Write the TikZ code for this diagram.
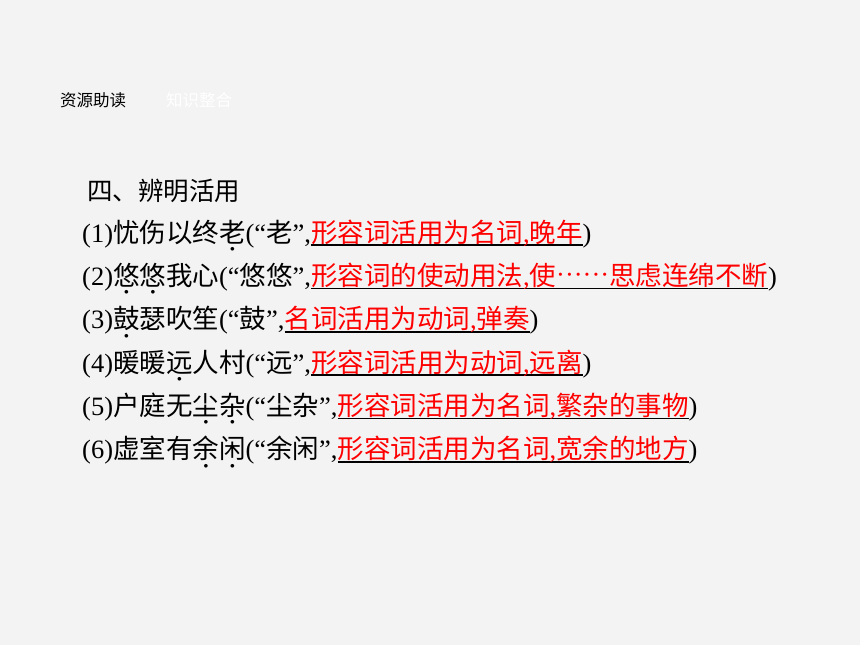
\documentclass[tikz,border=0pt]{standalone}
\usepackage{fontspec}
\setmainfont{Liberation Serif}
\newfontfamily\cjk{Noto Sans CJK SC}
\newfontfamily\dv{DejaVu Sans}
\definecolor{bg}{RGB}{243,243,243}
\definecolor{hl}{RGB}{255,0,0}
\newsavebox\ulbox
\newsavebox\dotbox
\newcommand\zh[1]{{\cjk #1}}
\newcommand\ul[1]{\sbox\ulbox{\color{hl}#1}\rlap{\vrule width\wd\ulbox height -2.3pt depth 4.1pt}\usebox\ulbox}
\newcommand\edot[1]{\sbox\dotbox{#1}\rlap{\hbox to \wd\dotbox{\hss\raisebox{-8.6pt}{\dv\fontsize{4.8}{5}\selectfont ●}\hss}}\usebox\dotbox}
\newcommand\myell{\hbox to 53pt{\hss\raisebox{1.5pt}{·}\hss\raisebox{1.5pt}{·}\hss\raisebox{1.5pt}{·}\hss\raisebox{1.5pt}{·}\hss\raisebox{1.5pt}{·}\hss\raisebox{1.5pt}{·}\hss}}
\tikzset{
  txt/.style={anchor=base west, inner sep=0pt, font=\fontsize{26.5}{30}\selectfont},
  hdr/.style={anchor=base west, inner sep=0pt, font=\fontsize{16.5}{18}\selectfont\cjk},
}
\begin{document}
\begin{tikzpicture}[x=1pt,y=1pt]
\fill[bg] (0,0) rectangle (860,-645);
\useasboundingbox (0,0) rectangle (860,-645);
\node[hdr] (h1) at (60,-106) {资源助读};
\node[hdr,text=white] (h2) at (166,-106) {知识整合};
\node[anchor=base west, inner sep=0pt, font=\fontsize{25.5}{30}\selectfont\cjk] (title) at (87,-200) {四、辨明活用};
\node[txt] (l1) at (82,-242) {(1)\zh{忧伤以终}\edot{\zh{老}}(“\zh{老}”,\ul{\zh{形容词活用为名词},\zh{晚年}})};
\node[txt] (l2) at (82,-285.3) {(2)\edot{\zh{悠}}\edot{\zh{悠}}\zh{我心}(“\zh{悠悠}”,\ul{\zh{形容词的使动用法},\zh{使}\myell\zh{思虑连绵不断}})};
\node[txt] (l3) at (82,-328.6) {(3)\edot{\zh{鼓}}\zh{瑟吹笙}(“\zh{鼓}”,\ul{\zh{名词活用为动词},\zh{弹奏}})};
\node[txt] (l4) at (82,-372) {(4)\zh{暖暖}\edot{\zh{远}}\zh{人村}(“\zh{远}”,\ul{\zh{形容词活用为动词},\zh{远离}})};
\node[txt] (l5) at (82,-415.2) {(5)\zh{户庭无}\edot{\zh{尘}}\edot{\zh{杂}}(“\zh{尘杂}”,\ul{\zh{形容词活用为名词},\zh{繁杂的事物}})};
\node[txt] (l6) at (82,-458.4) {(6)\zh{虚室有}\edot{\zh{余}}\edot{\zh{闲}}(“\zh{余闲}”,\ul{\zh{形容词活用为名词},\zh{宽余的地方}})};
\end{tikzpicture}
\end{document}
